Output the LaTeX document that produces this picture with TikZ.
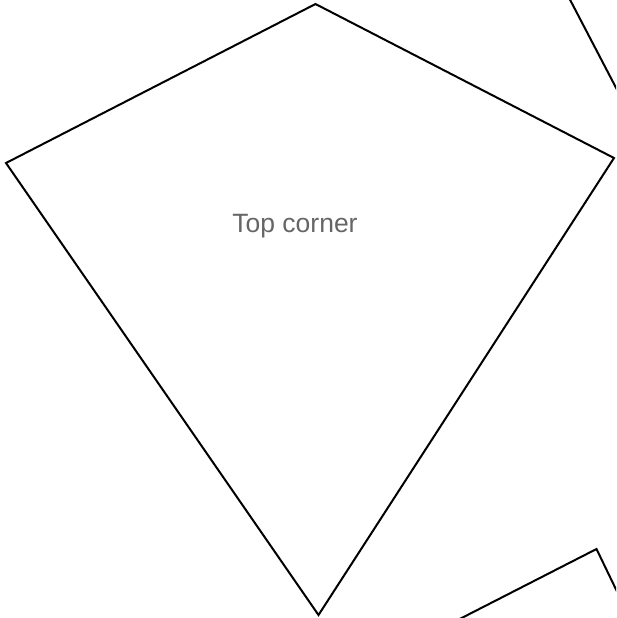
\documentclass[tikz,border=0pt]{standalone}
\usepackage{fontspec}
\setmainfont{Liberation Sans}
\usetikzlibrary{positioning}
\definecolor{mygray}{RGB}{102,102,102}
\tikzset{
  kite/.style={draw=black, line width=2pt, line join=miter},
  label/.style={font=\fontsize{26.5}{30}\selectfont, text=mygray, anchor=base, inner sep=0pt}
}
\begin{document}
\begin{tikzpicture}[x=1pt, y=-1pt]
  \useasboundingbox (0,0) rectangle (616,618);
  \clip (0,0) rectangle (616,618);
  % Kite corners
  \coordinate (top) at (315.5,4);
  \coordinate (right) at (614,158);
  \coordinate (bottom) at (318.5,615);
  \coordinate (left) at (6,163);
  \draw[kite] (top) -- (right) -- (bottom) -- (left) -- cycle;
  % Label
  \node[label] (toplabel) at (295,232) {Top corner};
  % Neighbouring shapes, cut by the edge
  \coordinate (nbtop) at (566,-8);
  \coordinate (nbend) at (625,105);
  \draw[kite] (nbtop) -- (nbend);
  \coordinate (sqa) at (446,626);
  \coordinate (sqb) at (596.5,549);
  \coordinate (sqc) at (624,606);
  \draw[kite] (sqa) -- (sqb) -- (sqc);
\end{tikzpicture}
\end{document}
